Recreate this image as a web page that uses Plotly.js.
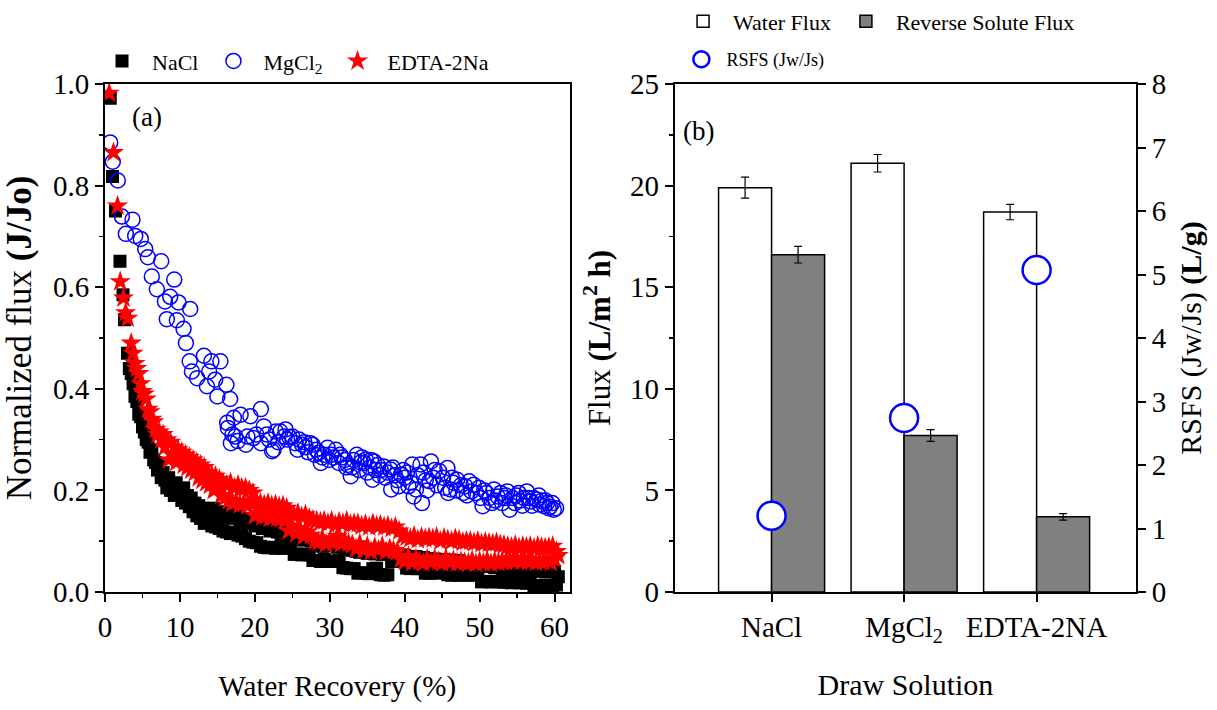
<!DOCTYPE html>
<html>
<head>
<meta charset="utf-8">
<script src="https://cdn.plot.ly/plotly-3.0.1.min.js"></script>
<style>html,body{margin:0;padding:0;background:#fff;}#chart{width:1217px;height:710px;}</style>
</head>
<body>
<div id="chart"></div>
<script>
// ---------- Panel (a): normalized flux vs water recovery ----------
const recoveryNaCl = [0.7,1.0,1.4,2.0,2.4,2.6,
3.0,3.25,3.5,3.75,4.0,4.25,4.5,4.75,5.0,5.25,5.5,5.75,6.0,6.25,6.5,6.75,7.0,7.25,7.5,7.75,
8.0,8.25,8.5,8.75,9.0,9.25,9.5,9.75,10.0,10.25,10.5,10.75,11.0,11.25,11.5,11.75,12.0,12.25,12.5,12.75,
13.0,13.25,13.5,13.75,14.0,14.25,14.5,14.75,15.0,15.25,15.5,15.75,16.0,16.25,16.5,16.75,17.0,17.25,17.5,17.75,
18.0,18.25,18.5,18.75,19.0,19.25,19.5,19.75,20.0,20.25,20.5,20.75,21.0,21.25,21.5,21.75,22.0,22.25,22.5,22.75,
23.0,23.25,23.5,23.75,24.0,24.25,24.5,24.75,25.0,25.25,25.5,25.75,26.0,26.25,26.5,26.75,27.0,27.25,27.5,27.75,
28.0,28.25,28.5,28.75,29.0,29.25,29.5,29.75,30.0,30.25,30.5,30.75,31.0,31.25,31.5,31.75,32.0,32.25,32.5,32.75,
33.0,33.25,33.5,33.75,34.0,34.25,34.5,34.75,35.0,35.25,35.5,35.75,36.0,36.25,36.5,36.75,37.0,37.25,37.5,37.75,
38.0,38.25,38.5,38.75,39.0,39.25,39.5,39.75,40.0,40.25,40.5,40.75,41.0,41.25,41.5,41.75,42.0,42.25,42.5,42.75,
43.0,43.25,43.5,43.75,44.0,44.25,44.5,44.75,45.0,45.25,45.5,45.75,46.0,46.25,46.5,46.75,47.0,47.25,47.5,47.75,
48.0,48.25,48.5,48.75,49.0,49.25,49.5,49.75,50.0,50.25,50.5,50.75,51.0,51.25,51.5,51.75,52.0,52.25,52.5,52.75,
53.0,53.25,53.5,53.75,54.0,54.25,54.5,54.75,55.0,55.25,55.5,55.75,56.0,56.25,56.5,56.75,57.0,57.25,57.5,57.75,
58.0,58.25,58.5,58.75,59.0,59.25,59.5,59.75,60.0,60.25,60.5];
const fluxNaCl = [0.972,0.818,0.75,0.651,0.585,0.536,
0.47,0.44,0.43,0.41,0.385,0.375,0.35,0.345,0.325,0.315,0.30,0.295,0.275,0.28,0.26,0.255,0.24,0.25,0.225,0.235,
0.22,0.205,0.225,0.2,0.21,0.19,0.215,0.19,0.2,0.18,0.205,0.175,0.19,0.168,0.185,0.158,0.175,0.15,0.17,0.145,
0.165,0.135,0.16,0.14,0.155,0.13,0.165,0.128,0.15,0.125,0.158,0.12,0.148,0.118,0.155,0.115,0.145,0.117,0.15,0.112,
0.14,0.11,0.145,0.105,0.135,0.10,0.14,0.098,0.13,0.097,0.135,0.09,0.125,0.088,0.13,0.087,0.12,0.088,0.125,0.086,
0.118,0.087,0.112,0.086,0.12,0.09,0.11,0.086,0.115,0.074,0.105,0.075,0.11,0.073,0.102,0.074,0.108,0.073,0.1,0.062,
0.095,0.062,0.1,0.06,0.09,0.065,0.097,0.06,0.092,0.061,0.095,0.06,0.088,0.062,0.09,0.048,0.085,0.047,0.088,0.046,
0.082,0.046,0.08,0.037,0.078,0.038,0.082,0.037,0.076,0.036,0.08,0.046,0.075,0.047,0.078,0.034,0.074,0.033,0.078,0.034,
0.075,0.06,0.072,0.061,0.076,0.06,0.07,0.062,0.072,0.047,0.07,0.046,0.068,0.047,0.07,0.046,0.066,0.046,0.068,0.037,
0.066,0.037,0.064,0.038,0.065,0.037,0.062,0.046,0.064,0.046,0.06,0.034,0.063,0.033,0.06,0.034,0.062,0.033,0.058,0.034,
0.058,0.033,0.056,0.034,0.055,0.033,0.056,0.034,0.053,0.02,0.052,0.021,0.05,0.02,0.051,0.02,0.048,0.021,0.05,0.02,
0.046,0.019,0.045,0.02,0.046,0.018,0.044,0.019,0.045,0.018,0.043,0.018,0.044,0.017,0.042,0.018,0.043,0.013,0.041,0.013,
0.042,0.013,0.041,0.014,0.04,0.013,0.042,0.013,0.041,0.014,0.03];

const recoveryMgCl2 = [0.69,1.04,1.71,2.25,2.78,3.67,4.03,4.78,5.37,5.72,6.25,6.92,7.5,8.0,8.25,8.7,9.24,9.59,9.81,10.48,
10.8,11.37,11.3,11.6,12.3,13.2,13.6,13.9,14.2,14.7,15.0,15.4,16.2,16.7,16.3,16.4,16.8,17.0,17.2,17.4,
17.7,18.1,18.8,19.4,19.0,19.8,20.8,20.8,21.2,21.6,22.3,22.5,22.8,23.4,23.9,24.1,24.6,25.0,25.4,25.9,
26.3,26.8,27.4,27.7,28.2,28.5,28.8,29.3,29.7,30.2,30.8,31.2,31.6,32.0,32.4,32.8,33.2,33.6,34.1,34.6,
34.8,35.3,35.7,35.9,36.4,36.8,37.2,37.7,38.1,38.2,38.7,39.2,39.5,40.0,40.5,41.0,41.2,41.5,42.1,42.3,
42.8,43.3,43.5,44.0,44.6,45.1,45.7,45.8,46.1,46.5,47.0,47.5,48.1,48.6,48.9,49.2,49.9,50.4,50.9,51.3,
51.9,52.4,52.8,53.3,53.7,54.0,54.4,54.9,55.4,55.9,56.3,56.8,57.2,57.6,58.0,58.3,58.6,59.0,59.4,59.9,60.2,
20.2,21.9,23.1,24.3,25.7,26.6,27.1,28.0,29.0,29.9,30.5,31.4,32.2,33.0,33.9,34.3,35.0,35.5,36.1,36.6,
37.4,38.4,39.0,39.8,40.3,40.8,41.7,42.5,43.0,43.8,44.3,45.4,46.3,46.9,47.8,48.3,49.5,50.1,50.6,51.6,
52.1,53.0,53.5,54.7,55.2,55.7,56.5,57.0,57.9,58.8,59.2,59.7];
const fluxMgCl2 = [0.885,0.847,0.81,0.739,0.705,0.733,0.701,0.695,0.675,0.659,0.621,0.596,0.651,0.572,0.537,0.581,0.615,0.535,0.57,0.518,
0.49,0.557,0.454,0.434,0.421,0.465,0.405,0.434,0.454,0.418,0.385,0.454,0.408,0.38,0.333,0.323,0.293,0.31,0.343,0.306,
0.297,0.349,0.29,0.346,0.306,0.303,0.36,0.293,0.326,0.31,0.277,0.28,0.316,0.316,0.306,0.32,0.305,0.306,0.293,0.3,
0.29,0.285,0.293,0.29,0.28,0.274,0.254,0.27,0.284,0.27,0.28,0.254,0.265,0.26,0.25,0.228,0.26,0.27,0.255,0.254,
0.261,0.245,0.221,0.257,0.25,0.24,0.247,0.235,0.241,0.202,0.23,0.208,0.231,0.225,0.208,0.251,0.188,0.202,0.251,0.175,
0.22,0.218,0.257,0.24,0.238,0.225,0.244,0.195,0.202,0.215,0.221,0.21,0.208,0.218,0.198,0.211,0.205,0.169,0.195,0.185,
0.202,0.188,0.195,0.185,0.198,0.162,0.185,0.19,0.18,0.185,0.198,0.178,0.185,0.182,0.172,0.18,0.169,0.175,0.168,0.162,0.165,
0.31,0.3,0.295,0.3,0.28,0.295,0.275,0.27,0.265,0.26,0.265,0.27,0.245,0.245,0.24,0.265,0.235,0.26,0.24,0.23,
0.225,0.245,0.22,0.24,0.235,0.215,0.23,0.235,0.2,0.225,0.21,0.205,0.225,0.2,0.195,0.19,0.195,0.185,0.2,0.175,
0.18,0.175,0.19,0.175,0.195,0.17,0.185,0.17,0.19,0.18,0.165,0.175];

const recoveryEDTA = [0.56,1.13,1.67,2.03,2.47,2.75,3.04,
3.5,3.75,4.0,4.25,4.5,4.75,5.0,5.25,5.5,5.75,6.0,6.25,6.5,6.75,7.0,7.25,7.5,7.75,8.0,8.25,
8.5,8.75,9.0,9.25,9.5,9.75,10.0,10.25,10.5,10.75,11.0,11.25,11.5,11.75,12.0,12.25,12.5,12.75,13.0,13.25,
13.5,13.75,14.0,14.25,14.5,14.75,15.0,15.25,15.5,15.75,16.0,16.25,16.5,16.75,17.0,17.25,17.5,17.75,18.0,18.25,
18.5,18.75,19.0,19.25,19.5,19.75,20.0,20.25,20.5,20.75,21.0,21.25,21.5,21.75,22.0,22.25,22.5,22.75,23.0,23.25,
23.5,23.75,24.0,24.25,24.5,24.75,25.0,25.25,25.5,25.75,26.0,26.25,26.5,26.75,27.0,27.25,27.5,27.75,28.0,28.25,
28.5,28.75,29.0,29.25,29.5,29.75,30.0,30.25,30.5,30.75,31.0,31.25,31.5,31.75,32.0,32.25,32.5,32.75,33.0,33.25,
33.5,33.75,34.0,34.25,34.5,34.75,35.0,35.25,35.5,35.75,36.0,36.25,36.5,36.75,37.0,37.25,37.5,37.75,38.0,38.25,
38.5,38.75,39.0,39.25,39.5,39.75,40.0,40.25,40.5,40.75,41.0,41.25,41.5,41.75,42.0,42.25,42.5,42.75,43.0,43.25,
43.5,43.75,44.0,44.25,44.5,44.75,45.0,45.25,45.5,45.75,46.0,46.25,46.5,46.75,47.0,47.25,47.5,47.75,48.0,48.25,
48.5,48.75,49.0,49.25,49.5,49.75,50.0,50.25,50.5,50.75,51.0,51.25,51.5,51.75,52.0,52.25,52.5,52.75,53.0,53.25,
53.5,53.75,54.0,54.25,54.5,54.75,55.0,55.25,55.5,55.75,56.0,56.25,56.5,56.75,57.0,57.25,57.5,57.75,58.0,58.25,
58.5,58.75,59.0,59.25,59.5,59.75,60.0,60.25,60.5];
const fluxEDTA = [0.982,0.865,0.76,0.611,0.579,0.55,0.539,
0.49,0.47,0.45,0.44,0.43,0.41,0.395,0.39,0.38,0.36,0.355,0.34,0.335,0.32,0.31,0.315,0.30,0.31,0.285,0.30,
0.26,0.295,0.27,0.285,0.255,0.28,0.265,0.275,0.25,0.27,0.245,0.265,0.24,0.26,0.235,0.255,0.225,0.25,0.22,0.245,
0.215,0.235,0.21,0.23,0.2,0.228,0.205,0.222,0.19,0.215,0.185,0.21,0.18,0.215,0.175,0.205,0.178,0.21,0.172,0.205,
0.175,0.205,0.17,0.2,0.175,0.195,0.15,0.178,0.155,0.175,0.148,0.172,0.15,0.175,0.145,0.17,0.148,0.172,0.145,0.168,
0.145,0.17,0.14,0.165,0.12,0.155,0.13,0.15,0.115,0.155,0.125,0.148,0.11,0.152,0.118,0.145,0.112,0.142,0.1,0.14,
0.098,0.138,0.105,0.14,0.095,0.135,0.1,0.14,0.097,0.132,0.11,0.138,0.095,0.135,0.1,0.14,0.096,0.133,0.093,0.135,
0.085,0.135,0.095,0.13,0.082,0.133,0.09,0.128,0.08,0.135,0.088,0.13,0.083,0.132,0.09,0.128,0.08,0.13,0.085,0.125,
0.082,0.128,0.08,0.12,0.065,0.11,0.06,0.108,0.07,0.105,0.058,0.11,0.065,0.103,0.06,0.108,0.057,0.105,0.065,0.107,
0.058,0.105,0.065,0.108,0.06,0.1,0.057,0.106,0.066,0.103,0.058,0.1,0.062,0.105,0.057,0.102,0.06,0.098,0.058,0.1,
0.057,0.1,0.062,0.097,0.056,0.1,0.06,0.095,0.057,0.098,0.062,0.096,0.056,0.095,0.06,0.097,0.058,0.093,0.06,0.092,
0.06,0.09,0.065,0.088,0.06,0.092,0.062,0.087,0.06,0.09,0.064,0.088,0.06,0.09,0.062,0.086,0.058,0.09,0.061,0.088,
0.06,0.087,0.062,0.088,0.058,0.09,0.065,0.08,0.072];

// ---------- Panel (b): flux and RSFS by draw solution ----------
const solutions = ['NaCl', 'MgCl<sub>2</sub>', 'EDTA-2NA'];
const waterFlux = [19.9, 21.1, 18.7];
const waterFluxErr = [0.52, 0.43, 0.38];
const reverseSoluteFlux = [16.6, 7.7, 3.7];
const reverseSoluteFluxErr = [0.41, 0.29, 0.16];
const rsfs = [1.2, 2.74, 5.07];
const rsfsErr = [0.03, 0.066, 0.14];

const FONT = '"Liberation Serif", "Times New Roman", serif';

const traces = [
  {x: recoveryNaCl, y: fluxNaCl, name: 'NaCl', type: 'scatter', mode: 'markers',
   xaxis: 'x', yaxis: 'y', legend: 'legend',
   marker: {symbol: 'square', size: 13, color: '#000000'}},
  {x: recoveryMgCl2, y: fluxMgCl2, name: 'MgCl<sub>2</sub>', type: 'scatter', mode: 'markers',
   xaxis: 'x', yaxis: 'y', legend: 'legend',
   marker: {symbol: 'circle-open', size: 15, color: '#0000ff', line: {width: 1.5}}},
  {x: recoveryEDTA, y: fluxEDTA, name: 'EDTA-2Na', type: 'scatter', mode: 'markers',
   xaxis: 'x', yaxis: 'y', legend: 'legend',
   marker: {symbol: 'star', size: 16, color: '#ff0000'}},
  {x: solutions, y: waterFlux, name: 'Water Flux', type: 'bar', xaxis: 'x2', yaxis: 'y2', legend: 'legend2',
   marker: {color: '#ffffff', line: {color: '#000000', width: 1.5}},
   error_y: {type: 'data', array: waterFluxErr, visible: true, color: '#000000', thickness: 1.2, width: 4}},
  {x: solutions, y: reverseSoluteFlux, name: 'Reverse Solute Flux', type: 'bar', xaxis: 'x2', yaxis: 'y2', legend: 'legend2',
   marker: {color: '#808080', line: {color: '#000000', width: 1.5}},
   error_y: {type: 'data', array: reverseSoluteFluxErr, visible: true, color: '#000000', thickness: 1.2, width: 4}},
  {x: solutions, y: rsfs, name: 'RSFS (Jw/Js)', type: 'scatter', mode: 'markers', xaxis: 'x2', yaxis: 'y3', legend: 'legend3',
   marker: {symbol: 'circle', size: 28, color: '#ffffff', line: {color: '#0000ff', width: 2.5}},
   error_y: {type: 'data', array: rsfsErr, visible: true, color: '#0000ff', thickness: 1.2, width: 3}}
];

const axisCommon = {
  showline: true, linecolor: '#000', linewidth: 2, mirror: true,
  ticks: 'outside', ticklen: 8, tickwidth: 2, tickcolor: '#000',
  showgrid: false, zeroline: false,
  tickfont: {family: FONT, size: 29, color: '#000'}
};

const layout = {
  width: 1217, height: 710,
  margin: {l: 104.5, r: 80.6, t: 84, b: 117.5, pad: 0, autoexpand: false},
  paper_bgcolor: '#fff', plot_bgcolor: '#fff',
  font: {family: FONT, color: '#000'},
  barmode: 'group', bargap: 0.2, bargroupgap: 0,
  xaxis: Object.assign({}, axisCommon, {
    domain: [0, 0.4506], range: [0, 62], dtick: 10, tick0: 0, anchor: 'y',
    minor: {ticks: 'outside', ticklen: 4, tickwidth: 1.5, dtick: 5, tickcolor: '#000'},
    title: {text: 'Water Recovery (%)', font: {family: FONT, size: 29}, standoff: 34}
  }),
  yaxis: Object.assign({}, axisCommon, {
    domain: [0, 1], range: [0, 1.0], dtick: 0.2, tick0: 0, tickformat: '.1f', anchor: 'x',
    minor: {ticks: 'outside', ticklen: 4, tickwidth: 1.5, dtick: 0.1, tickcolor: '#000'},
    title: {text: 'Normalized flux <b>(J/Jo)</b>', font: {family: FONT, size: 35}, standoff: 14}
  }),
  xaxis2: Object.assign({}, axisCommon, {
    domain: [0.5527, 1], type: 'category', range: [-0.73, 2.75], anchor: 'y2',
    title: {text: 'Draw Solution', font: {family: FONT, size: 30}, standoff: 28}
  }),
  // tick-only overlay giving the short marks between the categories
  xaxis3: {overlaying: 'x2', anchor: 'y2', side: 'bottom', range: [-0.73, 2.75],
    tickmode: 'array', tickvals: [-0.5, 0.5, 1.5, 2.5], showticklabels: false,
    ticks: 'outside', ticklen: 5, tickwidth: 1.5, tickcolor: '#000',
    showline: false, showgrid: false, zeroline: false},
  yaxis2: Object.assign({}, axisCommon, {
    domain: [0, 1], range: [0, 25], dtick: 5, tick0: 0, anchor: 'x2',
    minor: {ticks: 'outside', ticklen: 4, tickwidth: 1.5, dtick: 2.5, tickcolor: '#000'},
    title: {text: 'Flux <b>(L/m<sup>2</sup> h)</b>', font: {family: FONT, size: 31}, standoff: 10}
  }),
  yaxis3: Object.assign({}, axisCommon, {
    overlaying: 'y2', side: 'right', range: [0, 8], dtick: 1, tick0: 0, anchor: 'x2', mirror: false,
    title: {text: 'RSFS (Jw/Js) <b>(L/g)</b>', font: {family: FONT, size: 30}, standoff: 14}
  }),
  legend: {orientation: 'h', x: -0.0126, xanchor: 'left', y: 1.045, yanchor: 'middle',
    xref: 'paper', yref: 'paper', itemwidth: 50, itemsizing: 'trace', bgcolor: 'rgba(0,0,0,0)',
    font: {family: FONT, size: 22, color: '#000'}, tracegroupgap: 0},
  legend2: {orientation: 'h', x: 0.551, xanchor: 'left', y: 1.123, yanchor: 'middle',
    itemwidth: 50, bgcolor: 'rgba(0,0,0,0)', font: {family: FONT, size: 22, color: '#000'}},
  legend3: {orientation: 'h', x: 0.5542, xanchor: 'left', y: 1.048, yanchor: 'middle',
    itemwidth: 40, itemsizing: 'trace', bgcolor: 'rgba(0,0,0,0)', font: {family: FONT, size: 18, color: '#000'}},
  annotations: [
    {text: '(a)', xref: 'x', yref: 'y', x: 5.6, y: 0.936, showarrow: false,
     xanchor: 'center', yanchor: 'middle', font: {family: FONT, size: 27}},
    {text: '(b)', xref: 'x2 domain', yref: 'y2 domain', x: 0.052, y: 0.908, showarrow: false,
     xanchor: 'center', yanchor: 'middle', font: {family: FONT, size: 27}}
  ]
};

Plotly.newPlot('chart', traces, layout, {displayModeBar: false, staticPlot: true});
</script>
</body>
</html>
